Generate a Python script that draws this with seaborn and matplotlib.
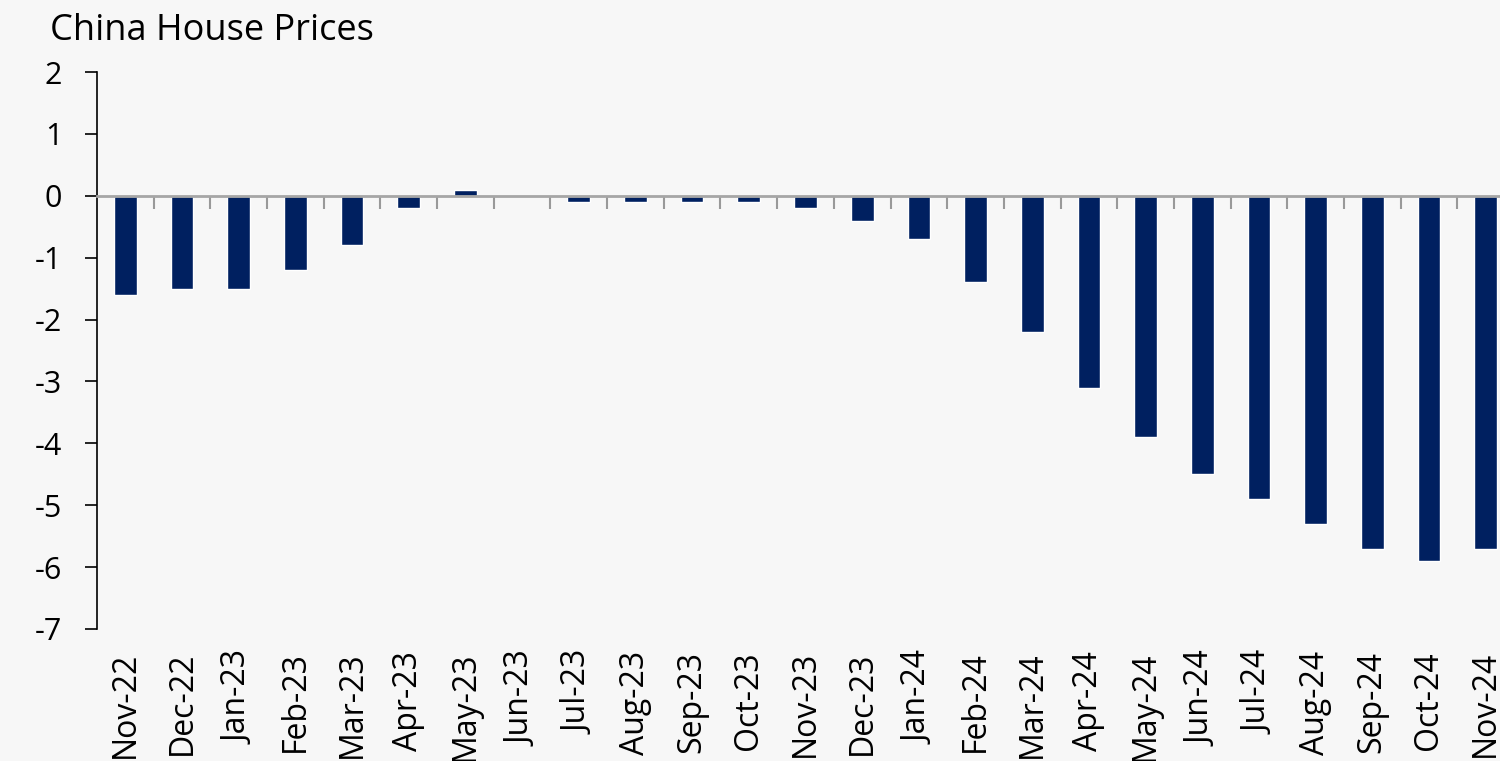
import matplotlib
matplotlib.use("Agg")
import matplotlib.pyplot as plt
from matplotlib.ticker import FixedLocator, NullFormatter
import seaborn as sns
import pandas as pd

months = ["Nov-22", "Dec-22", "Jan-23", "Feb-23", "Mar-23", "Apr-23", "May-23",
          "Jun-23", "Jul-23", "Aug-23", "Sep-23", "Oct-23", "Nov-23", "Dec-23",
          "Jan-24", "Feb-24", "Mar-24", "Apr-24", "May-24", "Jun-24", "Jul-24",
          "Aug-24", "Sep-24", "Oct-24", "Nov-24"]
price_change = [-1.6, -1.5, -1.5, -1.2, -0.8, -0.2, 0.1, 0.0, -0.1, -0.1, -0.1,
                -0.1, -0.2, -0.4, -0.7, -1.4, -2.2, -3.1, -3.9, -4.5, -4.9,
                -5.3, -5.7, -5.9, -5.7]
y_ticks = [2, 1, 0, -1, -2, -3, -4, -5, -6, -7]

title = "China House Prices"
bar_color = "#002060"
bg = "#f7f7f7"

sns.set_theme(style="white")
plt.rcParams["font.family"] = ["Open Sans", "DejaVu Sans"]

df = pd.DataFrame({"month": months, "change": price_change})

fig = plt.figure(figsize=(15, 7.61), dpi=100, facecolor=bg)
ax = fig.add_axes([97 / 1500, 1 - 629 / 761, 1417 / 1500, (629 - 72) / 761])
ax.set_facecolor(bg)

sns.barplot(data=df, x="month", y="change", color=bar_color, width=0.4,
            saturation=1, ax=ax, order=months)

ax.set_xlim(-0.5, len(months) - 0.5)
ax.set_ylim(min(y_ticks), max(y_ticks))
ax.set_xlabel("")
ax.set_ylabel("")

# y axis: black spine with outward ticks
ax.set_yticks(y_ticks)
ax.set_yticklabels([str(v) for v in y_ticks])
ax.tick_params(axis="y", direction="out", length=9, width=1.2, color="black",
               labelsize=22, pad=16, left=True, labelcolor="black")
ax.spines["left"].set_color("black")
ax.spines["left"].set_linewidth(1.2)
for s in ("top", "right"):
    ax.spines[s].set_visible(False)

# category axis drawn along the zero line, ticks between categories
ax.spines["bottom"].set_position(("data", 0))
ax.spines["bottom"].set_color("#a6a6a6")
ax.spines["bottom"].set_linewidth(2)
ax.xaxis.set_major_locator(FixedLocator(range(len(months))))
ax.xaxis.set_major_formatter(NullFormatter())
ax.xaxis.set_minor_locator(FixedLocator([i + 0.5 for i in range(len(months))]))
ax.tick_params(axis="x", which="major", length=0, bottom=False)
ax.tick_params(axis="x", which="minor", direction="out", length=9, width=1.5,
               color="#999999", bottom=True)

# month labels at the bottom of the plot area
sec = ax.secondary_xaxis("bottom")
sec.set_xticks(range(len(months)), labels=months)
sec.tick_params(length=0, labelsize=23, pad=16, labelrotation=90, labelcolor="black")
sec.spines["bottom"].set_visible(False)

fig.text(50 / 1500, 1 - 40 / 761, title, fontsize=26, va="baseline", ha="left",
         color="black")

fig.savefig("out.png", dpi=100, facecolor=bg)
